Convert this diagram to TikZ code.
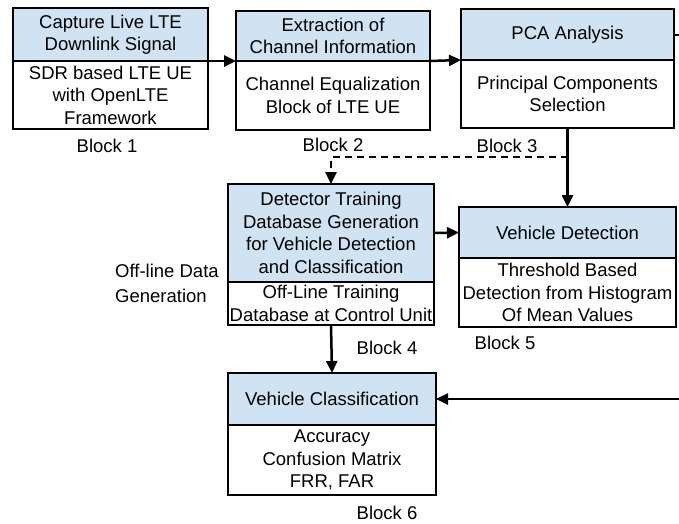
\documentclass[tikz,border=0pt]{standalone}
\usepackage{fontspec}
\setmainfont{Liberation Sans}
\usetikzlibrary{arrows.meta}
\definecolor{hdrblue}{RGB}{207,227,242}
\begin{document}
\begin{tikzpicture}[x=1pt,y=-1pt,
  box/.style={draw,line width=2.5pt,inner sep=0pt,outer sep=0pt,align=center,
    font=\fontsize{18.5}{22.5}\selectfont},
  hdr/.style={box,fill=hdrblue},
  body/.style={box,fill=white},
  lbl/.style={font=\fontsize{18.5}{22.5}\selectfont,inner sep=0pt},
  arr/.style={line width=2.5pt,-{Triangle[length=12pt,width=11pt]}}]
\useasboundingbox (0,0) rectangle (679,523);
\fill[white] (0,0) rectangle (679,523);
% Block 1
\node[hdr,minimum width=195pt,minimum height=53pt] (b1top) at (110.5,34.5) {Capture Live LTE\\Downlink Signal};
\node[body,minimum width=195pt,minimum height=68pt] (b1bot) at (110.5,95) {SDR based LTE UE\\with OpenLTE\\Framework};
\node[lbl] (l1) at (107,146) {Block 1};
% Block 2
\node[hdr,minimum width=194pt,minimum height=50pt] (b2top) at (333,36) {Extraction of\\Channel Information};
\node[body,minimum width=194pt,minimum height=69pt] (b2bot) at (333,95.5) {Channel Equalization\\Block of LTE UE};
\node[lbl] (l2) at (333,145) {Block 2};
% Block 3
\node[hdr,minimum width=213pt,minimum height=51pt] (b3top) at (567.5,34.5) {PCA Analysis};
\node[body,minimum width=213pt,minimum height=68pt] (b3bot) at (567.5,94) {Principal Components\\Selection};
\node[lbl] (l3) at (507,146) {Block 3};
% Block 4
\node[hdr,minimum width=206pt,minimum height=98pt] (b4top) at (331,233) {Detector Training\\Database Generation\\for Vehicle Detection\\and Classification};
\node[body,minimum width=206pt,minimum height=43pt] (b4bot) at (331,303.5) {Off-Line Training\\Database at Control Unit};
\node[lbl] (l4) at (387,348) {Block 4};
\node[lbl,align=left,anchor=west,font=\fontsize{18.5}{25}\selectfont] (off) at (115,283) {Off-line Data\\Generation};
% Block 5
\node[hdr,minimum width=217pt,minimum height=51pt] (b5top) at (567.5,232.5) {Vehicle Detection};
\node[body,minimum width=217pt,minimum height=69pt] (b5bot) at (567.5,292.5) {Threshold Based\\Detection from Histogram\\Of Mean Values};
\node[lbl] (l5) at (505,343) {Block 5};
% Block 6
\node[hdr,minimum width=208pt,minimum height=52pt] (b6top) at (332,399) {Vehicle Classification};
\node[body,minimum width=208pt,minimum height=70pt] (b6bot) at (332,460) {Accuracy\\Confusion Matrix\\FRR, FAR};
\node[lbl] (l6) at (387,513) {Block 6};
% connectors
\coordinate (r3) at (679,34.5);
\coordinate (r6) at (679,399);
\coordinate (d) at (567.5,157);
\draw[arr] (b1top.south east) -- (b2top.south west);
\draw[arr] (b2top.south east) -- (b3top.south west);
\draw[line width=2pt] (b3top.east) -- (r3);
\draw[arr] (b3bot.south) -- (b5top.north);
\draw[arr,dash pattern=on 7pt off 5pt] (d) -| (b4top.north);
\draw[arr] (b4top.east) -- (b5top.west);
\draw[arr] (b4bot.south) -- (b6top.north);
\draw[arr] (r6) -- (b6top.east);
\end{tikzpicture}
\end{document}
